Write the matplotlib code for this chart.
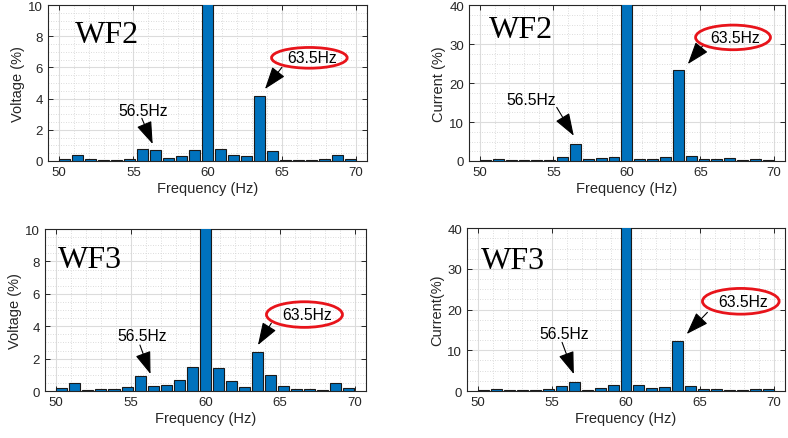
import numpy as np
import matplotlib
matplotlib.use("Agg")
import matplotlib.pyplot as plt
from matplotlib.patches import Ellipse
from matplotlib.ticker import MultipleLocator

plt.rcParams['font.family'] = ['Liberation Sans', 'DejaVu Sans']

# Frequency bins (Hz)
freqs = [50.375, 51.25, 52.125, 53.0, 53.875, 54.75, 55.625, 56.5, 57.375, 58.25,
         59.125, 60.0, 60.875, 61.75, 62.625, 63.5, 64.375, 65.25, 66.125, 67.0,
         67.875, 68.75, 69.625]

wf2_voltage = [0.15, 0.4, 0.12, 0.05, 0.06, 0.15, 0.77, 0.7, 0.2, 0.35,
               0.73, 100.0, 0.8, 0.4, 0.33, 4.2, 0.65, 0.05, 0.05, 0.05,
               0.15, 0.4, 0.12]
wf2_current = [0.25, 0.6, 0.25, 0.25, 0.2, 0.2, 0.9, 4.4, 0.6, 0.7,
               1.0, 100.0, 0.5, 0.6, 1.0, 23.4, 1.3, 0.6, 0.45, 0.75,
               0.3, 0.55, 0.25]
wf3_voltage = [0.2, 0.5, 0.05, 0.12, 0.12, 0.23, 0.9, 0.33, 0.38, 0.7,
               1.5, 100.0, 1.43, 0.64, 0.26, 2.43, 1.0, 0.3, 0.13, 0.12,
               0.05, 0.48, 0.2]
wf3_current = [0.15, 0.5, 0.15, 0.2, 0.2, 0.4, 1.2, 2.2, 0.3, 0.7,
               1.6, 100.0, 1.6, 0.8, 0.95, 12.2, 1.2, 0.5, 0.4, 0.15,
               0.15, 0.5, 0.4]

xticks = [50, 55, 60, 65, 70]
xlabel = "Frequency (Hz)"

panels = [
    dict(vals=wf2_voltage, ylabel="Voltage (%)", ymax=10, ymaj=2, title="WF2",
         rect=[0.0609, 0.631, 0.405, 0.355],
         wf=(0.185, 0.814), t56=(0.298, 0.327), a56=((0.294, 0.274), (0.328, 0.109)),
         ell=(0.819, 0.662, 0.237, 0.133), a63=((0.733, 0.601), (0.680, 0.462))),
    dict(vals=wf2_current, ylabel="Current (%)", ymax=40, ymaj=10, title="WF2",
         rect=[0.595, 0.631, 0.401, 0.355],
         wf=(0.164, 0.846), t56=(0.196, 0.397), a56=((0.278, 0.344), (0.332, 0.162)),
         ell=(0.836, 0.793, 0.237, 0.158), a63=((0.742, 0.744), (0.693, 0.622))),
    dict(vals=wf3_voltage, ylabel="Voltage (%)", ymax=10, ymaj=2, title="WF3",
         rect=[0.0571, 0.107, 0.407, 0.369],
         wf=(0.140, 0.815), t56=(0.304, 0.341), a56=((0.296, 0.284), (0.329, 0.105)),
         ell=(0.809, 0.472, 0.237, 0.158), a63=((0.706, 0.420), (0.664, 0.284))),
    dict(vals=wf3_current, ylabel="Current(%)", ymax=40, ymaj=10, title="WF3",
         rect=[0.5926, 0.107, 0.4036, 0.371],
         wf=(0.146, 0.799), t56=(0.305, 0.356), a56=((0.299, 0.299), (0.336, 0.104)),
         ell=(0.861, 0.551, 0.241, 0.158), a63=((0.756, 0.483), (0.691, 0.350))),
]

fig = plt.figure(figsize=(7.88, 4.39), dpi=100)
dark = '#262626'

for p in panels:
    ax = fig.add_axes(p['rect'])
    ax.bar(freqs, p['vals'], width=0.74, color='#0072BD', edgecolor='#1a1a1a',
           linewidth=0.8, zorder=3)
    ax.set_xlim(49.25, 70.75)
    ax.set_ylim(0, p['ymax'])
    ax.set_xticks(xticks)
    ax.xaxis.set_minor_locator(MultipleLocator(1))
    ax.yaxis.set_major_locator(MultipleLocator(p['ymaj']))
    ax.yaxis.set_minor_locator(MultipleLocator(p['ymaj'] / 4))
    ax.grid(which='major', color='#dcdcdc', linewidth=0.8, zorder=0)
    ax.grid(which='minor', color='#d0d0d0', linewidth=0.6, linestyle=(0, (1, 2)), zorder=0)
    ax.set_axisbelow(True)
    ax.tick_params(which='both', direction='in', top=True, right=True, colors=dark,
                   labelsize=9.5, width=0.7)
    ax.tick_params(which='major', length=3.5)
    ax.tick_params(which='minor', length=0)
    for s in ax.spines.values():
        s.set_color(dark)
        s.set_linewidth(0.8)
    ax.set_xlabel(xlabel, fontsize=10.5, color=dark, labelpad=2)
    ax.set_ylabel(p['ylabel'], fontsize=10.5, color=dark, labelpad=2)

    ax.text(p['wf'][0], p['wf'][1], p['title'], transform=ax.transAxes,
            fontsize=23, family='Liberation Serif', ha='center', va='center', color='black')

    ax.text(p['t56'][0], p['t56'][1], "56.5Hz", transform=ax.transAxes,
            fontsize=11.3, ha='center', va='center', color='black', zorder=5)
    tail, tip = p['a56']
    ax.annotate('', xy=tip, xytext=tail, xycoords='axes fraction',
                arrowprops=dict(arrowstyle='-|>,head_width=0.35,head_length=1.0',
                                color='black', lw=0.8, mutation_scale=14,
                                shrinkA=0, shrinkB=0), zorder=5)

    ex, ey, ew, eh = p['ell']
    ax.add_patch(Ellipse((ex, ey), ew, eh, transform=ax.transAxes, fill=False,
                         edgecolor='#e8141b', linewidth=2.0, zorder=6, clip_on=False))
    ax.text(ex + 0.008, ey, "63.5Hz", transform=ax.transAxes,
            fontsize=11.3, ha='center', va='center', color='black', zorder=7)
    tail, tip = p['a63']
    ax.annotate('', xy=tip, xytext=tail, xycoords='axes fraction',
                arrowprops=dict(arrowstyle='-|>,head_width=0.35,head_length=1.0',
                                color='black', lw=0.8, mutation_scale=14,
                                shrinkA=0, shrinkB=0), zorder=5)

fig.savefig("out.png", dpi=100)
